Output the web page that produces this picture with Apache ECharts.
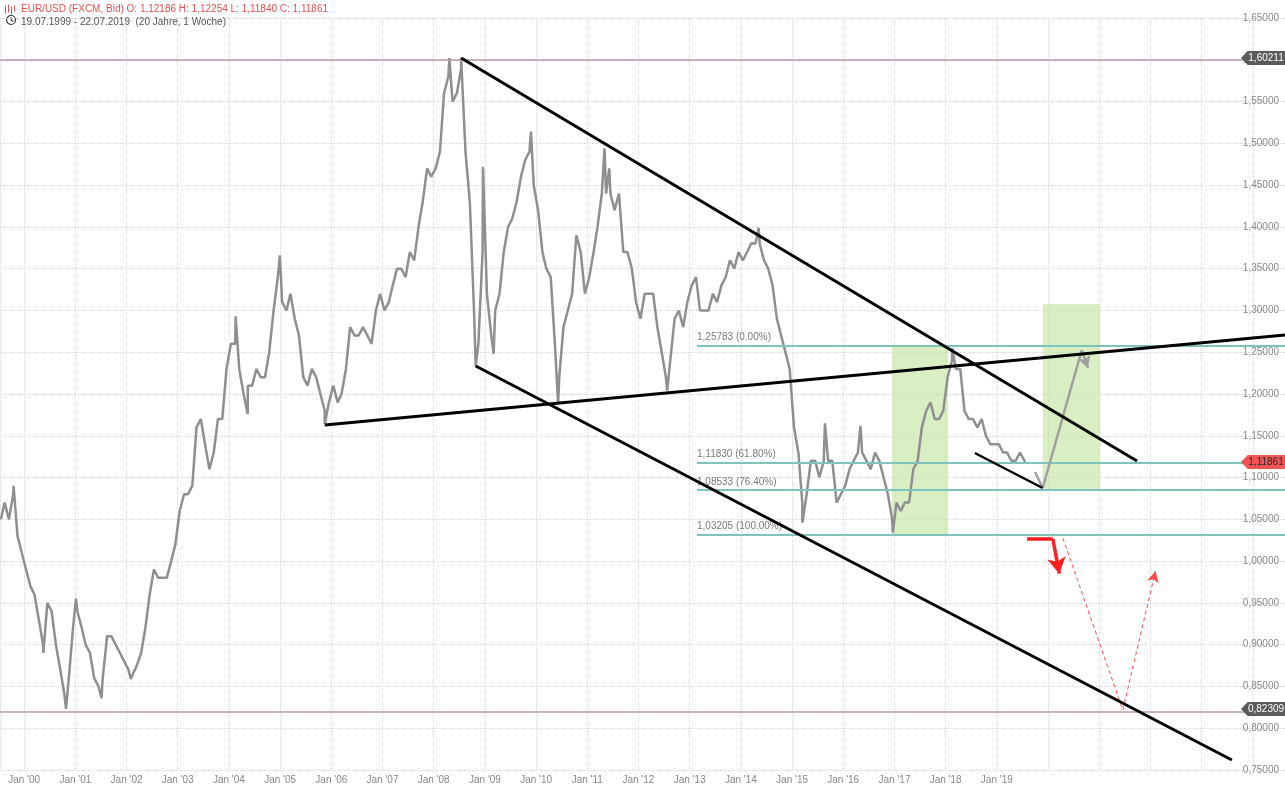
<!DOCTYPE html>
<html>
<head>
<meta charset="utf-8">
<script src="https://cdn.jsdelivr.net/npm/echarts@6/dist/echarts.min.js"></script>
<style>
html,body{margin:0;padding:0;background:#fff;}
#chart{width:1285px;height:788px;}
</style>
</head>
<body>
<div id="chart"></div>
<script>
// ---------------- DATA ----------------
// Monthly EUR/USD values (Jul 1999 .. Jul 2019)
const monthlyEURUSD = [
  1.05, 1.07, 1.05, 1.08, 1.03, 1.01,                                   // 1999 Jul-Dec
  0.99, 0.97, 0.96, 0.93, 0.90, 0.95, 0.94, 0.90, 0.87, 0.84, 0.86, 0.92, // 2000
  0.94, 0.92, 0.90, 0.89, 0.86, 0.85, 0.86, 0.91, 0.91, 0.90, 0.89, 0.88, // 2001
  0.87, 0.865, 0.875, 0.89, 0.92, 0.96, 0.99, 0.98, 0.98, 0.98, 1.00, 1.02, // 2002
  1.06, 1.08, 1.08, 1.09, 1.16, 1.17, 1.14, 1.11, 1.13, 1.17, 1.17, 1.23, // 2003
  1.26, 1.26, 1.23, 1.20, 1.21, 1.21, 1.23, 1.22, 1.22, 1.25, 1.30, 1.34, // 2004
  1.31, 1.30, 1.32, 1.29, 1.27, 1.22, 1.21, 1.23, 1.22, 1.20, 1.18, 1.19, // 2005
  1.21, 1.19, 1.20, 1.23, 1.28, 1.27, 1.27, 1.28, 1.27, 1.26, 1.30, 1.32, // 2006
  1.30, 1.31, 1.33, 1.35, 1.35, 1.34, 1.37, 1.36, 1.40, 1.43, 1.47, 1.46, // 2007
  1.47, 1.49, 1.56, 1.58, 1.55, 1.56, 1.59, 1.49, 1.43, 1.30, 1.26, 1.37, // 2008
  1.32, 1.27, 1.30, 1.32, 1.37, 1.40, 1.41, 1.43, 1.46, 1.48, 1.49, 1.45, // 2009
  1.42, 1.37, 1.35, 1.34, 1.26, 1.22, 1.28, 1.30, 1.32, 1.39, 1.37, 1.32, // 2010
  1.34, 1.37, 1.40, 1.44, 1.44, 1.44, 1.42, 1.44, 1.37, 1.37, 1.35, 1.31, // 2011
  1.29, 1.32, 1.32, 1.32, 1.28, 1.25, 1.22, 1.24, 1.29, 1.30, 1.28, 1.31, // 2012
  1.33, 1.34, 1.30, 1.30, 1.30, 1.32, 1.31, 1.33, 1.34, 1.36, 1.35, 1.37, // 2013
  1.36, 1.37, 1.38, 1.38, 1.38, 1.36, 1.35, 1.33, 1.29, 1.27, 1.25, 1.23, // 2014
  1.16, 1.13, 1.07, 1.08, 1.12, 1.12, 1.10, 1.12, 1.12, 1.12, 1.07, 1.08, // 2015
  1.09, 1.11, 1.12, 1.13, 1.13, 1.12, 1.11, 1.13, 1.12, 1.10, 1.08, 1.05, // 2016
  1.07, 1.06, 1.07, 1.07, 1.11, 1.12, 1.16, 1.18, 1.19, 1.17, 1.17, 1.18, // 2017
  1.22, 1.24, 1.23, 1.23, 1.18, 1.17, 1.17, 1.16, 1.17, 1.15, 1.14, 1.14, // 2018
  1.14, 1.13, 1.13, 1.12, 1.12, 1.13, 1.1186                             // 2019 Jan-Jul
];
const firstDate = '1999-07-19';
const lastDate = '2019-07-22';

// Notable highs / lows visible in the chart
const extremeDates  = ['1999-10-18','2000-05-17','2000-10-26','2001-01-05','2001-07-06','2002-01-31',
                       '2004-02-18','2004-05-14','2004-12-30','2005-11-15','2008-04-22','2008-07-15',
                       '2008-10-27','2008-12-18','2009-03-04','2009-11-25','2010-06-07','2011-05-04',
                       '2011-06-07','2012-07-24','2014-05-08','2015-03-16','2015-08-24','2016-05-03',
                       '2016-12-20','2018-02-16'];
const extremeValues = [1.09, 0.89, 0.8231, 0.955, 0.836, 0.859,
                       1.293, 1.176, 1.366, 1.164, 1.602, 1.6021,
                       1.233, 1.472, 1.248, 1.514, 1.188, 1.494,
                       1.47, 1.204, 1.399, 1.046, 1.165, 1.162,
                       1.034, 1.255];

// Header texts
const headerLine = 'EUR/USD (FXCM, Bid) O: 1,12186 H: 1,12254 L: 1,11840 C: 1,11861';
const periodLine = '19.07.1999 - 22.07.2019  (20 Jahre, 1 Woche)';

// Axis
const xStart = '1999-07-13';
const xEnd = '2024-08-18';
const yMin = 0.75, yMax = 1.65, yStep = 0.05;
const lastYearLabel = 2019;

// Horizontal price levels with tags
const levelValues = [1.60211, 0.82309];
const lastPrice = 1.11861;

// Fibonacci retracement
const fibStart = '2013-02-22';
const fibValues = [1.25783, 1.11830, 1.08533, 1.03205];
const fibPercents = ['0.00%', '61.80%', '76.40%', '100.00%'];

// Trend lines
const upperChannel = [['2008-07-15', 1.6021], ['2021-09-27', 1.1198]];
const lowerChannel = [['2008-10-27', 1.2335], ['2023-08-05', 0.762]];
const supportLine  = [['2005-11-15', 1.1629], ['2024-08-18', 1.2706]];
const shortLine    = [['2018-07-28', 1.1294], ['2019-11-24', 1.0875]];

// Boxes
const box1 = [['2016-12-13', 1.03205], ['2018-01-19', 1.25783]];
const box2 = [['2019-11-24', 1.08533], ['2021-01-08', 1.3077]];

// Arrows
const grayArrow = [['2019-10-01', 1.1066], ['2019-11-24', 1.0875], ['2020-08-29', 1.2526], ['2020-10-12', 1.231]];
const redArrow  = [['2019-08-04', 1.0265], ['2020-02-05', 1.0265], ['2020-03-22', 0.985]];
const redDashed = [['2020-04-16', 1.0276], ['2021-06-18', 0.8218], ['2022-02-06', 0.988]];

// ---------------- BUILD ----------------
function ts(s) { return Date.parse(s + 'T00:00:00Z'); }
function fmt(v) { return v.toFixed(5).replace('.', ','); }

const priceData = [];
for (let i = 0; i < monthlyEURUSD.length; i++) {
  let t;
  if (i === 0) t = ts(firstDate);
  else if (i === monthlyEURUSD.length - 1) t = ts(lastDate);
  else t = Date.UTC(1999, 6 + i, 15);
  priceData.push([t, monthlyEURUSD[i]]);
}
for (let i = 0; i < extremeDates.length; i++) priceData.push([ts(extremeDates[i]), extremeValues[i]]);
priceData.sort((a, b) => a[0] - b[0]);

function seg(points) { return points.map(p => [ts(p[0]), p[1]]); }

function arrowSegments(points, lineStyle, headSize) {
  const out = [];
  for (let i = 0; i < points.length - 1; i++) {
    const last = i === points.length - 2;
    out.push([
      { coord: [ts(points[i][0]), points[i][1]], symbol: 'none', lineStyle: lineStyle },
      { coord: [ts(points[i + 1][0]), points[i + 1][1]], symbol: last ? 'arrow' : 'none', symbolSize: headSize }
    ]);
  }
  return out;
}

const tagPath = 'path://M0,7 L7,0 L46,0 L46,14 L7,14 Z';
function tag(value, bg, textColor) {
  return {
    coord: [ts(xEnd), value],
    symbol: tagPath,
    symbolSize: [44, 14],
    symbolOffset: [-22, 0],
    symbolKeepAspect: false,
    itemStyle: { color: bg },
    label: { show: true, position: 'inside', formatter: fmt(value), color: textColor, fontSize: 10, offset: [3, 0] }
  };
}

const fibLines = fibValues.map((v, i) => [
  { coord: [ts(fibStart), v], lineStyle: { color: '#7cc4bc', width: 2, type: 'solid' },
    label: { show: true, position: 'insideStartTop', distance: [0, 3], formatter: fmt(v) + ' (' + fibPercents[i] + ')', color: '#7a7a7a', fontSize: 10 } },
  { coord: [ts(xEnd), v] }
]);

const levelLines = levelValues.map(v => ({ yAxis: v, lineStyle: { color: '#b896ae', width: 1.5, type: 'solid' }, label: { show: false } }));

const chart = echarts.init(document.getElementById('chart'), null, { renderer: 'canvas' });

const option = {
  animation: false,
  useUTC: true,
  backgroundColor: '#ffffff',
  textStyle: { fontFamily: 'Liberation Sans, Arial, sans-serif' },
  title: {
    text: headerLine,
    subtext: periodLine,
    left: 16, top: -2, itemGap: 0,
    textStyle: { fontSize: 10, fontWeight: 'normal', color: '#e8504f', fontFamily: 'Liberation Sans, Arial, sans-serif', lineHeight: 13 },
    subtextStyle: { fontSize: 10, color: '#555', fontFamily: 'Liberation Sans, Arial, sans-serif', lineHeight: 12 }
  },
  graphic: [
    { type: 'group', left: 3, top: 2, children: [
      { type: 'line', shape: { x1: 1, y1: 1, x2: 1, y2: 9 }, style: { stroke: '#e8504f', lineWidth: 1 } },
      { type: 'line', shape: { x1: 4, y1: 0, x2: 4, y2: 8 }, style: { stroke: '#e8504f', lineWidth: 1 } },
      { type: 'line', shape: { x1: 7, y1: 2, x2: 7, y2: 10 }, style: { stroke: '#e8504f', lineWidth: 1 } },
      { type: 'line', shape: { x1: 10, y1: 1, x2: 10, y2: 7 }, style: { stroke: '#e8504f', lineWidth: 1 } }
    ] },
    { type: 'group', left: 4, top: 13, children: [
      { type: 'circle', shape: { cx: 5, cy: 5, r: 4.5 }, style: { fill: 'none', stroke: '#333', lineWidth: 1.2 } },
      { type: 'polyline', shape: { points: [[5, 2.5], [5, 5], [7, 6.5]] }, style: { fill: 'none', stroke: '#333', lineWidth: 1.1 } }
    ] },
    { type: 'line', shape: { x1: 220, y1: 18, x2: 330, y2: 18 }, style: { stroke: '#d0d0dc', lineWidth: 1, lineDash: [1, 2] } }
  ],
  grid: { left: 0, right: 0, top: 18, bottom: 18, containLabel: false },
  xAxis: {
    type: 'time',
    min: ts(xStart), max: ts(xEnd),
    minInterval: 365 * 86400000, maxInterval: 366 * 86400000,
    splitNumber: 25,
    axisLine: { show: false },
    axisTick: { show: false },
    axisLabel: {
      color: '#888', fontSize: 10, margin: 5, hideOverlap: false,
      showMinLabel: false, showMaxLabel: false,
      formatter: function (value) {
        const d = new Date(value);
        if (d.getUTCMonth() !== 0 || d.getUTCDate() !== 1) return '';
        const y = d.getUTCFullYear();
        if (y > lastYearLabel) return '';
        return "Jan '" + String(y).slice(2);
      }
    },
    splitLine: { show: true, lineStyle: { type: 'dotted', color: '#d6d6e2', width: 1 } }
  },
  yAxis: {
    type: 'value',
    position: 'right',
    min: yMin, max: yMax, interval: yStep,
    axisLine: { show: false },
    axisTick: { show: false },
    axisLabel: { inside: true, margin: 6, color: '#888', fontSize: 10, formatter: v => fmt(v) },
    splitLine: { show: true, lineStyle: { type: 'dotted', color: '#d6d6e2', width: 1 } }
  },
  series: [
    {
      name: 'boxes', type: 'line', data: [], z: 1, silent: true,
      markArea: {
        silent: true,
        itemStyle: { color: 'rgba(196,228,160,0.62)' },
        data: [
          [{ coord: [ts(box1[0][0]), box1[0][1]] }, { coord: [ts(box1[1][0]), box1[1][1]] }],
          [{ coord: [ts(box2[0][0]), box2[0][1]] }, { coord: [ts(box2[1][0]), box2[1][1]] }]
        ]
      }
    },
    {
      name: 'levels', type: 'line', data: [], z: 2, silent: true,
      markLine: { silent: true, symbol: 'none', animation: false, data: levelLines.concat(fibLines) }
    },
    {
      name: 'EUR/USD', type: 'line', data: priceData, z: 3,
      showSymbol: false, symbol: 'none', silent: true,
      lineStyle: { color: '#8f8f8f', width: 2.5 }
    },
    { name: 'upper', type: 'line', data: seg(upperChannel), z: 5, symbol: 'none', silent: true, lineStyle: { color: '#000', width: 3 } },
    { name: 'lower', type: 'line', data: seg(lowerChannel), z: 5, symbol: 'none', silent: true, lineStyle: { color: '#000', width: 3 } },
    { name: 'support', type: 'line', data: seg(supportLine), z: 5, symbol: 'none', silent: true, lineStyle: { color: '#000', width: 3 } },
    { name: 'short', type: 'line', data: seg(shortLine), z: 5, symbol: 'none', silent: true, lineStyle: { color: '#000', width: 2.5 } },
    {
      name: 'arrows', type: 'line', data: [], z: 6, silent: true,
      markLine: {
        silent: true, animation: false, label: { show: false },
        data: []
          .concat(arrowSegments(grayArrow, { color: '#a0a0a0', width: 2.5, type: 'solid' }, [10, 12]))
          .concat(arrowSegments(redArrow, { color: '#ff1f1f', width: 3.5, type: 'solid' }, [14, 16]))
          .concat(arrowSegments(redDashed, { color: '#ff4a4a', width: 1, type: [4, 3] }, [9, 11]))
      }
    },
    {
      name: 'tags', type: 'line', data: [], z: 8, silent: true,
      markPoint: {
        silent: true, animation: false,
        data: [
          tag(levelValues[0], '#5b5b5b', '#ffffff'),
          tag(levelValues[1], '#5b5b5b', '#ffffff'),
          tag(lastPrice, '#f25555', '#2a2a2a')
        ]
      }
    }
  ]
};
chart.setOption(option);
</script>
</body>
</html>
